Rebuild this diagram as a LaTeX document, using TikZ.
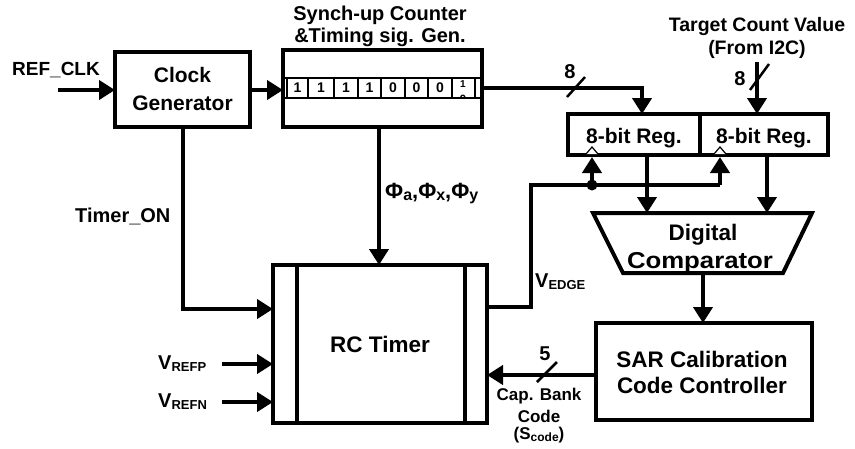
\documentclass[tikz,border=0pt]{standalone}
\usepackage{fontspec}
\setmainfont{Liberation Sans}
\usetikzlibrary{arrows.meta}
\newcommand{\fs}[1]{\fontsize{#1}{#1}\selectfont}
\newcommand{\lowtxt}[2]{\raisebox{-0.25ex}{\fs{#1}#2}}
\begin{document}
\begin{tikzpicture}[x=1pt,y=-1pt,
  wire/.style={line width=4pt},
  arr/.style={wire,-{Triangle[length=16pt,width=19pt]}},
  blk/.style={draw,line width=4pt,inner sep=0pt,outer sep=0pt},
  lbl/.style={font=\bfseries\fs{21},anchor=base,inner sep=0pt,align=center},
  sml/.style={font=\bfseries\fs{19},anchor=base,inner sep=0pt},
  bit/.style={font=\bfseries\fs{14},inner sep=0pt},
  tick/.style={line width=2.5pt}]
\useasboundingbox (0,0) rectangle (855,448);

% ---- blocks
\node[blk,minimum width=135pt,minimum height=75pt] (clk) at (182.5,89.5) {};
\node[blk,minimum width=199pt,minimum height=77pt] (cnt) at (382.5,88.5) {};
\node[blk,minimum width=132pt,minimum height=41pt] (reg1) at (634,134.5) {};
\node[blk,minimum width=128pt,minimum height=41pt] (reg2) at (764,134.5) {};
\node[blk,minimum width=214pt,minimum height=158pt] (rc) at (380,344) {};
\node[blk,minimum width=216pt,minimum height=97pt] (sar) at (704,371.5) {};

% comparator trapezoid
\coordinate (cmpTL) at (593,213); \coordinate (cmpTR) at (812,213);
\coordinate (cmpBR) at (783,273); \coordinate (cmpBL) at (623,273);
\draw[line width=4pt,line join=miter] (cmpTL) -- (cmpTR) -- (cmpBR) -- (cmpBL) -- cycle;
\coordinate (cmpIn1) at (647,213); \coordinate (cmpIn2) at (767,213);
\coordinate (cmpOut) at (703,273);

% RC timer inner bars
\draw[wire] (297,265) -- (297,423);
\draw[wire] (465,265) -- (465,423);

% counter row
\draw[line width=1.6pt] (283,78) -- (482,78);
\draw[line width=1.6pt] (283,98) -- (482,98);
\foreach \xx in {287,308,334,358,381,405,428,452,475}
  \draw[line width=1.6pt] (\xx,78) -- (\xx,98);
\foreach \xx/\bb in {297.5/1,321/1,346/1,369.5/1,393/0,416.5/0,440/0}
  \node[bit] (b\xx) at (\xx,88) {\bb};
\begin{scope}
  \clip (453,79) rectangle (474,97);
  \node[bit,font=\bfseries\fs{10}] (blast1) at (463,84) {1};
  \node[bit,font=\bfseries\fs{12}] (blast0) at (463,99) {0};
\end{scope}

% register clock symbols
\draw[line width=1.2pt,fill=white] (586,154) -- (592,147) -- (598,154);
\draw[line width=1.2pt,fill=white] (714,154) -- (720,147) -- (726,154);

% ---- texts
\node[lbl,font=\bfseries\fs{20}] (t1) at (380,20) {Synch-up Counter};
\node[lbl,font=\bfseries\fs{20}] (t2) at (380,42) {\&Timing sig. Gen.};
\node[lbl,font=\bfseries\fs{19.5}] (t3) at (757,31) {Target Count Value};
\node[lbl,font=\bfseries\fs{19.5}] (t4) at (757,54) {(From I2C)};
\node[sml,anchor=base west] (refclk) at (12,75) {REF\_CLK};
\node[lbl] (c1) at (182.5,82) {Clock};
\node[lbl] (c2) at (182.5,110) {Generator};
\node[lbl] (r1t) at (634,143) {8-bit Reg.};
\node[lbl] (r2t) at (764,143) {8-bit Reg.};
\node[lbl,font=\bfseries\fs{22.5}] (d1) at (703,240) {Digital};
\node[lbl,font=\bfseries\fs{23}] (d2) at (700,268) {\scalebox{1.12}[1]{Comparator}};
\node[lbl,font=\bfseries\fs{22.5}] (s1) at (702,367) {SAR Calibration};
\node[lbl,font=\bfseries\fs{22.5}] (s2) at (702,393) {Code Controller};
\node[lbl,font=\bfseries\fs{22.5}] (rct) at (380,352) {RC Timer};
\node[sml,anchor=base west,font=\bfseries\fs{20}] (ton) at (75,222) {Timer\_ON};
\node[sml,anchor=base west,font=\bfseries\fs{22}] (phi) at (385,198)
  {Φ\lowtxt{16}{a},Φ\lowtxt{16}{x},Φ\lowtxt{16}{y}};
\node[sml,anchor=base west,font=\bfseries\fs{20}] (vedge) at (535,287) {V\lowtxt{13}{EDGE}};
\node[sml,anchor=base west,font=\bfseries\fs{20}] (vrefp) at (158,369) {V\lowtxt{13}{REFP}};
\node[sml,anchor=base west,font=\bfseries\fs{20}] (vrefn) at (158,407) {V\lowtxt{13}{REFN}};
\node[sml,font=\bfseries\fs{17}] (cb1) at (539,400) {Cap. Bank};
\node[sml,font=\bfseries\fs{17}] (cb2) at (539,422) {Code};
\node[sml,font=\bfseries\fs{17}] (cb3) at (539,439) {(S\lowtxt{12}{code})};
\node[sml,font=\bfseries\fs{20}] (n8a) at (570,78) {8};
\node[sml,font=\bfseries\fs{20}] (n8b) at (740,85) {8};
\node[sml,font=\bfseries\fs{20}] (n5) at (545,360) {5};

% ---- connectors
\coordinate (refin) at (58,90);
\draw[arr] (refin) -- (clk.west |- refin);
\draw[arr] (clk.east |- 0,90) -- (cnt.west |- 0,90);
\coordinate (cntOut) at (482,88);
\coordinate (r1in) at (642,114);
\draw[arr] (cntOut) -- (r1in |- cntOut) -- (r1in);
\draw[tick] (567,97) -- (585,77);
\coordinate (tgt) at (757,62);
\draw[arr] (tgt) -- (757,114);
\draw[tick] (750,90) -- (769,64);

% V_EDGE net
\coordinate (ve1) at (487,307);
\coordinate (ve2) at (531,307);
\coordinate (ve3) at (531,185);
\coordinate (dot) at (592,185);
\coordinate (ve4) at (720,185);
\draw[wire,line join=miter] (ve1) -- (ve2) -- (ve3) -- (ve4);
\draw[arr] (ve4) -- (720,157);
\draw[arr] (dot) -- (592,157);
\fill (dot) circle (5.5pt);

% register outputs
\draw[arr] (647,155) -- (cmpIn1);
\draw[arr] (767,155) -- (cmpIn2);
\draw[arr] (cmpOut) -- (cmpOut |- sar.north);

% counter to RC
\draw[arr] (379,127) -- (379,265);
% timer_on
\draw[arr,line join=miter] (clk.south) ++(0.5,0) coordinate (tonA) -- (tonA |- 0,309) -- (rc.west |- 0,309);
% vrefs
\draw[arr] (222,364) -- (rc.west |- 0,364);
\draw[arr] (222,402) -- (rc.west |- 0,402);
% SAR to RC
\draw[arr] (sar.west |- 0,375) -- (rc.east |- 0,375);
\draw[tick] (537,382) -- (557,362);
\end{tikzpicture}
\end{document}
